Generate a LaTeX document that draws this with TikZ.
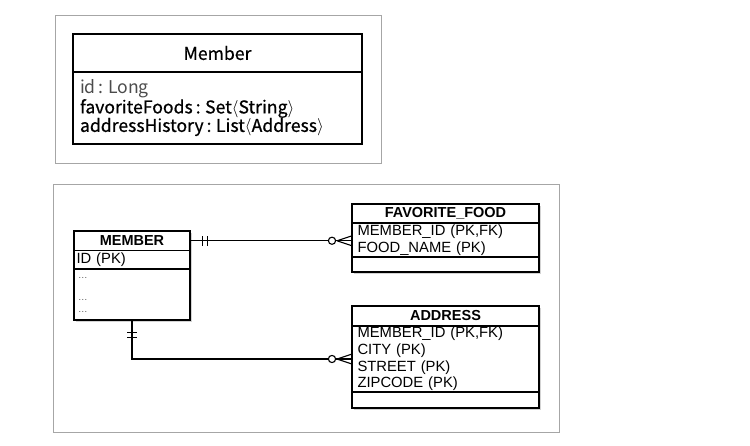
\documentclass[tikz,border=0pt]{standalone}
\usepackage{fontspec}
\setmainfont{Liberation Sans}
\newfontfamily\krfont{Noto Sans CJK KR}
\newfontfamily\krmedium[FakeBold=0.7]{Noto Sans CJK KR}
\newcommand\tcolon{\kern3pt:\kern4.5pt}
\usetikzlibrary{positioning, shadows, decorations.markings}
\tikzset{
  frame/.style={draw=black!35, line width=1pt},
  classbox/.style={draw, line width=1.2pt, outer sep=0pt, minimum width=289pt,
    inner xsep=7pt, inner ysep=0pt, font=\krmedium\fontsize{17.6}{18.5}\selectfont},
  tbl/.style={draw, line width=1.1pt, outer sep=0pt, fill=white, inner ysep=0pt,
    drop shadow={shadow xshift=1.5pt, shadow yshift=-1.5pt, opacity=0.35},
    font=\fontsize{14.8}{16.7}\selectfont},
  tblhead/.style={tbl, font=\bfseries\fontsize{14.5}{16}\selectfont, align=center},
  tblrows/.style={tbl, align=left},
  oneone/.style={postaction={decorate, decoration={markings,
    mark=at position 12.5pt with {\draw (0,-5pt) -- (0,5pt);},
    mark=at position 17.5pt with {\draw (0,-5pt) -- (0,5pt);}}}},
  zeromany/.style={postaction={decorate, decoration={markings,
    mark=at position 1 with {\draw (-15pt,0) -- (0,5pt) (-15pt,0) -- (0,-5pt);
      \draw[fill=white] (-20pt,0) circle (3.6pt);}}}}
}
\begin{document}
\begin{tikzpicture}[x=1pt, y=-1pt]
  \useasboundingbox (0,0) rectangle (750,445);
  % entity class
  \draw[frame] (55,15) rectangle (381,163);
  \node[classbox, minimum height=38pt, anchor=north west] (member) at (73,34) {Member};
  \node[classbox, minimum height=72pt, text width=275pt, align=left, below=0pt of member] (member-attr)
    {{\krfont\color{black!70}id\tcolon Long}\\favoriteFoods\tcolon Set$\langle$String$\rangle$\\addressHistory\tcolon List$\langle$Address$\rangle$};

  % tables
  \draw[frame] (53,184) rectangle (559,432);
  \node[tblhead, minimum width=116pt, minimum height=19.5pt, anchor=north west] (mem-head) at (74,231) {MEMBER};
  \node[tblrows, text width=111pt, inner xsep=2.5pt, minimum height=18.5pt, below=0pt of mem-head] (mem-id) {ID (PK)};
  \node[tblrows, text width=111pt, inner xsep=2.5pt, minimum height=51pt, below=0pt of mem-id,
    font=\fontsize{9.5}{12}\selectfont, text=black!65] (mem-rest) {\,\ldots\\[10pt]\,\ldots\\\,\ldots};

  \node[tblhead, minimum width=187pt, minimum height=19pt, anchor=north west] (ff-head) at (352,204) {FAVORITE\_FOOD};
  \node[tblrows, text width=176pt, inner xsep=5.5pt, minimum height=34pt, below=0pt of ff-head] (ff-rows)
    {MEMBER\_ID (PK,FK)\\FOOD\_NAME (PK)};
  \node[tblrows, minimum width=187pt, minimum height=15pt, below=0pt of ff-rows] (ff-rest) {};

  \node[tblhead, minimum width=187pt, minimum height=20pt, anchor=north west] (addr-head) at (352,306) {ADDRESS};
  \node[tblrows, text width=176pt, inner xsep=5.5pt, minimum height=66pt, below=0pt of addr-head] (addr-rows)
    {MEMBER\_ID (PK,FK)\\CITY (PK)\\STREET (PK)\\ZIPCODE (PK)};
  \node[tblrows, minimum width=187pt, minimum height=16pt, below=0pt of addr-rows] (addr-rest) {};

  % relations
  \draw[line width=1.1pt, oneone, zeromany] (mem-head.east) -- (mem-head.east -| ff-rows.west);
  \draw[line width=1.1pt, oneone, zeromany] (mem-rest.south) |- (addr-rows.west);
\end{tikzpicture}
\end{document}
